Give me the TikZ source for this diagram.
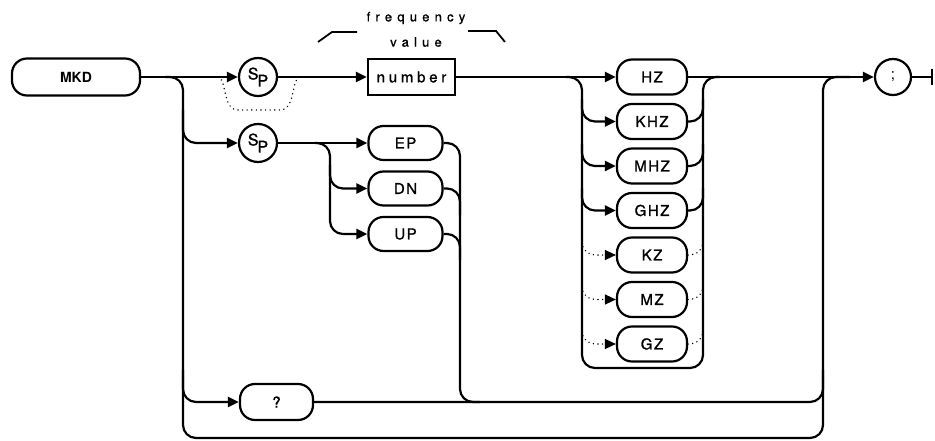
\documentclass[tikz,border=0pt]{standalone}
\usepackage{fontspec}
\setmainfont{TeX Gyre Heros}
\newfontfamily\labf[LetterSpace=10,FakeBold=1.2]{TeX Gyre Heros}
\newfontfamily\numf[LetterSpace=25,FakeBold=1.2]{TeX Gyre Heros}
\newfontfamily\widef[LetterSpace=40,FakeBold=1]{TeX Gyre Heros}
\newfontfamily\spf[FakeBold=1.2]{TeX Gyre Heros}
\usetikzlibrary{arrows.meta,calc}
\tikzset{
  ln/.style={line width=2.2pt, line join=round},
  arr/.style={ln, -{Triangle[length=11pt,width=10pt]}},
  dots/.style={line width=1.5pt, dash pattern=on 0.1pt off 4.5pt, line cap=round},
  darr/.style={dots, -{Triangle[length=11pt,width=10pt]}},
  pill/.style={draw, line width=2.2pt, rounded corners=15pt, minimum height=35pt,
    inner sep=0pt, font=\labf\fontsize{15}{15}\selectfont},
  numbox/.style={draw, line width=2.2pt, minimum height=36pt, minimum width=87pt,
    inner sep=0pt, font=\numf\fontsize{15}{15}\selectfont},
  spc/.style={draw, circle, line width=2.2pt, minimum size=38pt, inner sep=0pt,
    font=\spf\fontsize{16}{16}\selectfont},
  lbl/.style={inner sep=0pt, font=\widef\fontsize{13}{13}\selectfont},
  brk/.style={line width=1.8pt},
}
\begin{document}
\begin{tikzpicture}[x=1pt,y=1pt]
\useasboundingbox (0,0) rectangle (935,-441);

% nodes
\node[pill, minimum width=128pt, minimum height=37pt,
      font=\fontsize{14}{14}\selectfont\bfseries] (mkd) at (76,-77) {MKD};
\node[spc] (sp1) at (258,-77) {\raisebox{3pt}{S}\kern-1pt\raisebox{-4pt}{P}};
\node[numbox] (num) at (411.5,-77) {number};
\node[spc] (sp2) at (258,-143) {\raisebox{3pt}{S}\kern-1pt\raisebox{-4pt}{P}};
\node[pill, minimum width=74pt, minimum height=34pt] (ep) at (405.5,-143) {EP};
\node[pill, minimum width=74pt, minimum height=34pt] (dn) at (405.5,-188.5) {DN};
\node[pill, minimum width=74pt, minimum height=34pt] (up) at (405.5,-234) {UP};
\node[pill, minimum width=73pt, minimum height=36pt] (q) at (276.5,-402) {?};
\node[pill, minimum width=70pt] (hz) at (652,-77) {HZ};
\node[pill, minimum width=70pt] (khz) at (652,-121.5) {KHZ};
\node[pill, minimum width=70pt] (mhz) at (652,-166) {MHZ};
\node[pill, minimum width=70pt] (ghz) at (652,-210.5) {GHZ};
\node[pill, minimum width=70pt] (kz) at (652,-255) {KZ};
\node[pill, minimum width=70pt] (mz) at (652,-299.5) {MZ};
\node[pill, minimum width=70pt] (gz) at (652,-344) {GZ};
\node[spc, minimum size=36pt, font=\fontsize{15}{15}\selectfont] (semi) at (893,-77) {;};
\coordinate (exit) at (933,-77);

% label
\node[lbl] (freq) at (416,-18) {frequency};
\node[lbl] (val) at (416,-42) {value};
\draw[brk] (318,-42) -- (332,-32) -- (357,-32);
\draw[brk] (468,-31) -- (496,-31) -- (505,-42);

% main line
\draw[arr] (mkd) -- (sp1);
\draw[arr] (sp1) -- (num);
\draw[arr] (num) -- (hz);
\draw[arr] (hz) -- (semi);
\draw[ln, -{Bar[width=16pt]}] (semi) -- (exit);

% optional SP bypass
\draw[dots] (218,-77) .. controls (227,-78) and (222,-110) .. (238,-110)
  -- (280,-110) .. controls (296,-110) and (291,-78) .. (300,-77);

% left bus and outer loop
\draw[ln, rounded corners=13pt] (165,-77) -| (183,-438) -| (823,-77) -- (850,-77);
\draw[arr, rounded corners=13pt] (183,-110) |- (sp2);
\draw[arr, rounded corners=13pt] (183,-370) |- (q);
\draw[ln, rounded corners=13pt] (q) -| (823,-370);

% EP / DN / UP
\draw[arr] (sp2) -- (ep);
\draw[arr, rounded corners=13pt] (315,-143) -| (330,-200) |- (up);
\draw[arr, rounded corners=13pt] (330,-165) |- (dn);
\draw[ln, rounded corners=13pt] (ep) -| (460,-402) -- (480,-402);
\draw[ln, rounded corners=13pt] (dn) -| (460,-215);
\draw[ln, rounded corners=13pt] (up) -| (460,-260);

% unit group
\draw[ln, rounded corners=13pt] (566,-77) -| (582,-368) -| (703,-77) -- (720,-77);
\foreach \n/\y in {khz/121.5, mhz/166, ghz/210.5} {
  \draw[arr, rounded corners=13pt] (582,-\y+22) |- (\n);
  \draw[ln, rounded corners=13pt] (\n) -| (703,-\y+22);
}
\foreach \n/\y in {kz/255, mz/299.5, gz/344} {
  \draw[darr, rounded corners=13pt] (582,-\y+22) |- (\n);
  \draw[dots, rounded corners=13pt] (\n) -| (703,-\y+22);
}
\end{tikzpicture}
\end{document}
